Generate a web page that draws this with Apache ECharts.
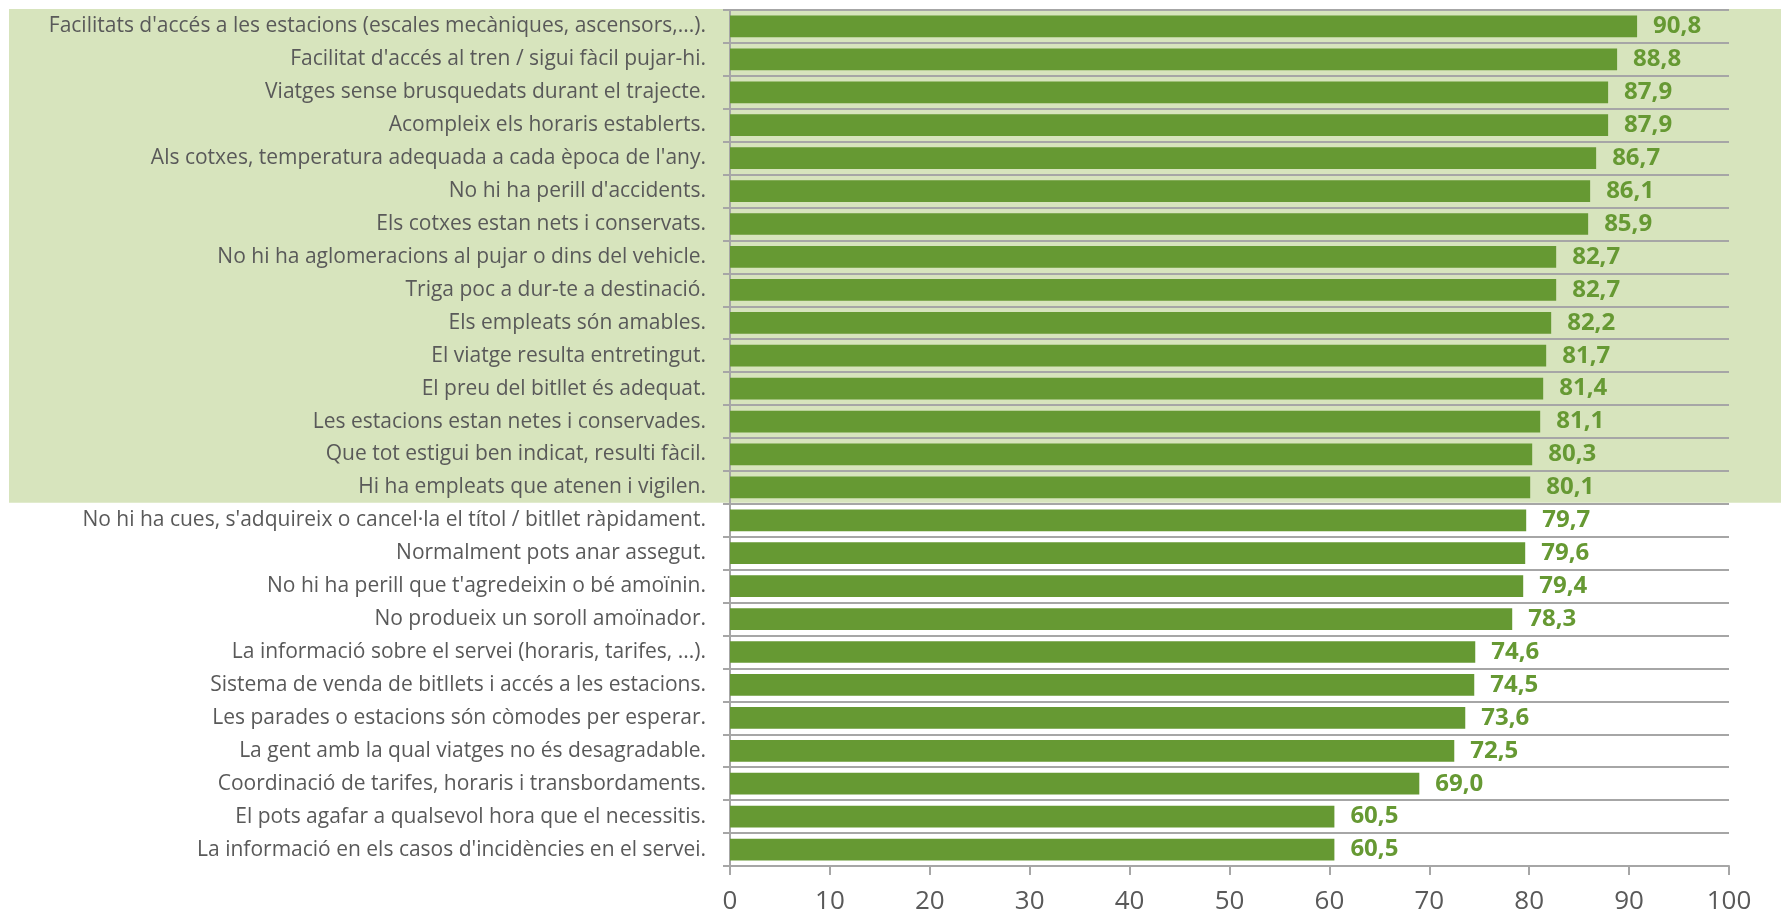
<!DOCTYPE html>
<html><head><meta charset="utf-8">
<script src="https://cdn.jsdelivr.net/npm/echarts@6/dist/echarts.min.js"></script>
<style>html,body{margin:0;padding:0;background:#fff}#c{width:1781px;height:916px}</style>
</head><body><div id="c"></div>
<script>
const categories = [
  "Facilitats d'accés a les estacions (escales mecàniques, ascensors,...).",
  "Facilitat d'accés al tren / sigui fàcil pujar-hi.",
  "Viatges sense brusquedats durant el trajecte.",
  "Acompleix els horaris establerts.",
  "Als cotxes, temperatura adequada a cada època de l'any.",
  "No hi ha perill d'accidents.",
  "Els cotxes estan nets i conservats.",
  "No hi ha aglomeracions al pujar o dins del vehicle.",
  "Triga poc a dur-te a destinació.",
  "Els empleats són amables.",
  "El viatge resulta entretingut.",
  "El preu del bitllet és adequat.",
  "Les estacions estan netes i conservades.",
  "Que tot estigui ben indicat, resulti fàcil.",
  "Hi ha empleats que atenen i vigilen.",
  "No hi ha cues, s'adquireix o cancel·la el títol / bitllet ràpidament.",
  "Normalment pots anar assegut.",
  "No hi ha perill que t'agredeixin o bé amoïnin.",
  "No produeix un soroll amoïnador.",
  "La informació sobre el servei (horaris, tarifes, ...).",
  "Sistema de venda de bitllets i accés a les estacions.",
  "Les parades o estacions són còmodes per esperar.",
  "La gent amb la qual viatges no és desagradable.",
  "Coordinació de tarifes, horaris i transbordaments.",
  "El pots agafar a qualsevol hora que el necessitis.",
  "La informació en els casos d'incidències en el servei."
];
const values = [90.8, 88.8, 87.9, 87.9, 86.7, 86.1, 85.9, 82.7, 82.7, 82.2, 81.7, 81.4, 81.1, 80.3, 80.1, 79.7, 79.6, 79.4, 78.3, 74.6, 74.5, 73.6, 72.5, 69.0, 60.5, 60.5];
const highlightedCount = 15;
const xTicks = [0, 10, 20, 30, 40, 50, 60, 70, 80, 90, 100];

(function () {
const FONT = "'Open Sans', sans-serif";
const GREEN = '#669933';
const GRID = '#A6A6A6';
const chart = echarts.init(document.getElementById('c'), null, {renderer: 'canvas'});
const option = {
  animation: false,
  grid: {left: 730, right: 52, top: 10, bottom: 50, containLabel: false},
  xAxis: {
    type: 'value', min: xTicks[0], max: xTicks[xTicks.length - 1], interval: 10,
    axisLine: {show: true, lineStyle: {color: GRID, width: 2}},
    axisTick: {show: true, length: 9, lineStyle: {color: GRID, width: 2}},
    splitLine: {show: false},
    axisLabel: {color: '#595959', fontFamily: FONT, fontSize: 26, margin: 23}
  },
  yAxis: {
    type: 'category', data: categories, inverse: true,
    axisLine: {show: true, lineStyle: {color: GRID, width: 2}},
    axisTick: {show: true, length: 7, lineStyle: {color: GRID, width: 2}},
    splitLine: {show: true, lineStyle: {color: GRID, width: 2}},
    axisLabel: {color: '#595959', fontFamily: FONT, fontSize: 21, margin: 24}
  },
  series: [{
    type: 'bar', data: values, barCategoryGap: '34%',
    itemStyle: {color: GREEN},
    label: {show: true, position: 'right', distance: 16, color: GREEN,
      fontFamily: FONT, fontWeight: 'bold', fontSize: 24,
      formatter: p => p.value.toFixed(1).replace('.', ',')}
  }]
};
chart.setOption(option);
const c0 = chart.convertToPixel({yAxisIndex: 0}, 0);
const c1 = chart.convertToPixel({yAxisIndex: 0}, 1);
const band = c1 - c0;
const hTop = c0 - band / 2 - 1;
const hBottom = chart.convertToPixel({yAxisIndex: 0}, highlightedCount - 1) + band / 2 - 1;
chart.setOption({
  graphic: [{type: 'rect', z: -10, silent: true,
    shape: {x: 9, y: hTop, width: 1781 - 9, height: hBottom - hTop},
    style: {fill: '#D7E4BD'}}]
});
})();
</script></body></html>
